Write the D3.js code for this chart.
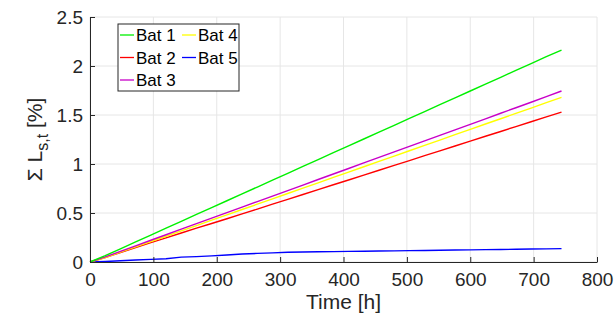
<!DOCTYPE html>
<html>
<head>
<meta charset="utf-8">
<script src="https://cdn.jsdelivr.net/npm/d3@7"></script>
<style>
  body { margin: 0; background: #fff; }
  svg { display: block; font-family: "Liberation Sans", Arial, sans-serif; }
</style>
</head>
<body>
<div id="chart"></div>
<script>
// hours sampled once a day
const hours = [0, 24, 48, 72, 96, 120, 144, 168, 192, 216, 240, 264, 288, 312, 336, 360,
  384, 408, 432, 456, 480, 504, 528, 552, 576, 600, 624, 648, 672, 696, 720, 744];

const bat1 = [0, 0.065, 0.135, 0.205, 0.275, 0.345, 0.415, 0.485, 0.555, 0.625, 0.695, 0.765,
  0.835, 0.905, 0.975, 1.045, 1.115, 1.185, 1.255, 1.325, 1.395, 1.465, 1.535, 1.605, 1.675,
  1.745, 1.815, 1.885, 1.955, 2.025, 2.095, 2.163];
const bat2 = [0, 0.045, 0.097, 0.148, 0.198, 0.247, 0.296, 0.345, 0.393, 0.441, 0.491, 0.540,
  0.590, 0.639, 0.689, 0.738, 0.788, 0.837, 0.887, 0.936, 0.986, 1.035, 1.085, 1.134, 1.184,
  1.233, 1.283, 1.332, 1.382, 1.431, 1.481, 1.530];
const bat3 = [0, 0.052, 0.108, 0.165, 0.222, 0.278, 0.335, 0.391, 0.447, 0.504, 0.560, 0.616,
  0.673, 0.729, 0.785, 0.842, 0.898, 0.954, 1.011, 1.067, 1.123, 1.180, 1.236, 1.292, 1.349,
  1.405, 1.461, 1.518, 1.574, 1.630, 1.687, 1.745];
const bat4 = [0, 0.045, 0.100, 0.154, 0.209, 0.263, 0.318, 0.372, 0.427, 0.481, 0.536, 0.590,
  0.645, 0.699, 0.754, 0.808, 0.863, 0.917, 0.972, 1.026, 1.081, 1.135, 1.190, 1.244, 1.299,
  1.353, 1.408, 1.462, 1.517, 1.571, 1.626, 1.680];
const bat5 = [0, 0.005, 0.012, 0.020, 0.027, 0.033, 0.050, 0.055, 0.063, 0.072, 0.082, 0.088,
  0.093, 0.100, 0.102, 0.104, 0.106, 0.108, 0.110, 0.112, 0.114, 0.116, 0.118, 0.120, 0.122,
  0.124, 0.126, 0.128, 0.130, 0.132, 0.134, 0.136];

const seriesNames = ['Bat 1', 'Bat 2', 'Bat 3', 'Bat 4', 'Bat 5'];
const seriesValues = [bat1, bat2, bat3, bat4, bat5];
const seriesColors = ['#00f000', '#ff0000', '#c800c8', '#ffff00', '#0000ff'];

const xTicks = [0, 100, 200, 300, 400, 500, 600, 700, 800];
const yTicks = [0, 0.5, 1, 1.5, 2, 2.5];

const W = 614, H = 321;
const margin = { left: 90, right: 17, top: 17, bottom: 59 };

const svg = d3.select('#chart').append('svg')
  .attr('width', W).attr('height', H);

const x = d3.scaleLinear().domain([0, 800]).range([margin.left, W - margin.right]);
const y = d3.scaleLinear().domain([0, 2.5]).range([H - margin.bottom, margin.top]);

// Grid lines
const grid = svg.append('g');
grid.selectAll('.vg').data(xTicks).enter().append('line')
  .attr('x1', d => x(d)).attr('x2', d => x(d))
  .attr('y1', y(0)).attr('y2', y(2.5))
  .attr('stroke', '#e6e6e6').attr('stroke-width', 1);
grid.selectAll('.hg').data(yTicks).enter().append('line')
  .attr('x1', x(0)).attr('x2', x(800))
  .attr('y1', d => y(d)).attr('y2', d => y(d))
  .attr('stroke', '#e6e6e6').attr('stroke-width', 1);

// Series
const line = d3.line().x((d, i) => x(hours[i])).y(d => y(d));
// draw order so that magenta sits above yellow/red like the reference
[4, 1, 3, 2, 0].forEach(function(k) {
  svg.append('path')
    .datum(seriesValues[k])
    .attr('fill', 'none')
    .attr('stroke', seriesColors[k])
    .attr('stroke-width', 1.4)
    .attr('d', line);
});

// Axes
const xAxis = d3.axisBottom(x).tickValues(xTicks).tickSizeInner(-5).tickSizeOuter(0).tickPadding(11);
const yAxis = d3.axisLeft(y).tickValues(yTicks).tickSizeInner(-5).tickSizeOuter(0).tickPadding(7)
  .tickFormat(d3.format('~g'));

const gx = svg.append('g').attr('transform', 'translate(0,' + y(0) + ')').call(xAxis);
const gy = svg.append('g').attr('transform', 'translate(' + x(0) + ',0)').call(yAxis);
[gx, gy].forEach(function(g) {
  g.select('.domain').attr('stroke', '#262626');
  g.selectAll('.tick line').attr('stroke', '#262626');
  g.selectAll('.tick text').attr('fill', '#262626').attr('font-size', '19px')
    .attr('font-family', '"Liberation Sans", Arial, sans-serif');
});

// Axis titles
svg.append('text')
  .attr('x', (x(0) + x(800)) / 2).attr('y', 309)
  .attr('text-anchor', 'middle').attr('font-size', '21px').attr('fill', '#262626')
  .text('Time [h]');

const yl = svg.append('text')
  .attr('transform', 'translate(42,' + (y(1.25)) + ') rotate(-90)')
  .attr('text-anchor', 'middle').attr('font-size', '21px').attr('fill', '#262626');
yl.append('tspan').text('\u03A3 L');
yl.append('tspan').attr('dy', 6).attr('font-size', '16px').text('s,t');
yl.append('tspan').attr('dy', -6).text(' [%]');

// Legend
const lg = svg.append('g').attr('transform', 'translate(118,24)');
lg.append('rect').attr('width', 121).attr('height', 67)
  .attr('fill', '#fff').attr('stroke', '#262626').attr('stroke-width', 1);
seriesNames.forEach(function(name, i) {
  const col = i < 3 ? 0 : 1;
  const row = i < 3 ? i : i - 3;
  const ox = col === 0 ? 2 : 64;
  const oy = 11 + row * 22.5;
  lg.append('line')
    .attr('x1', ox).attr('x2', ox + 14).attr('y1', oy).attr('y2', oy)
    .attr('stroke', seriesColors[i]).attr('stroke-width', 1.3);
  lg.append('text')
    .attr('x', ox + 16).attr('y', oy + 6)
    .attr('font-size', '17px').attr('fill', '#000')
    .text(name);
});
</script>
</body>
</html>
